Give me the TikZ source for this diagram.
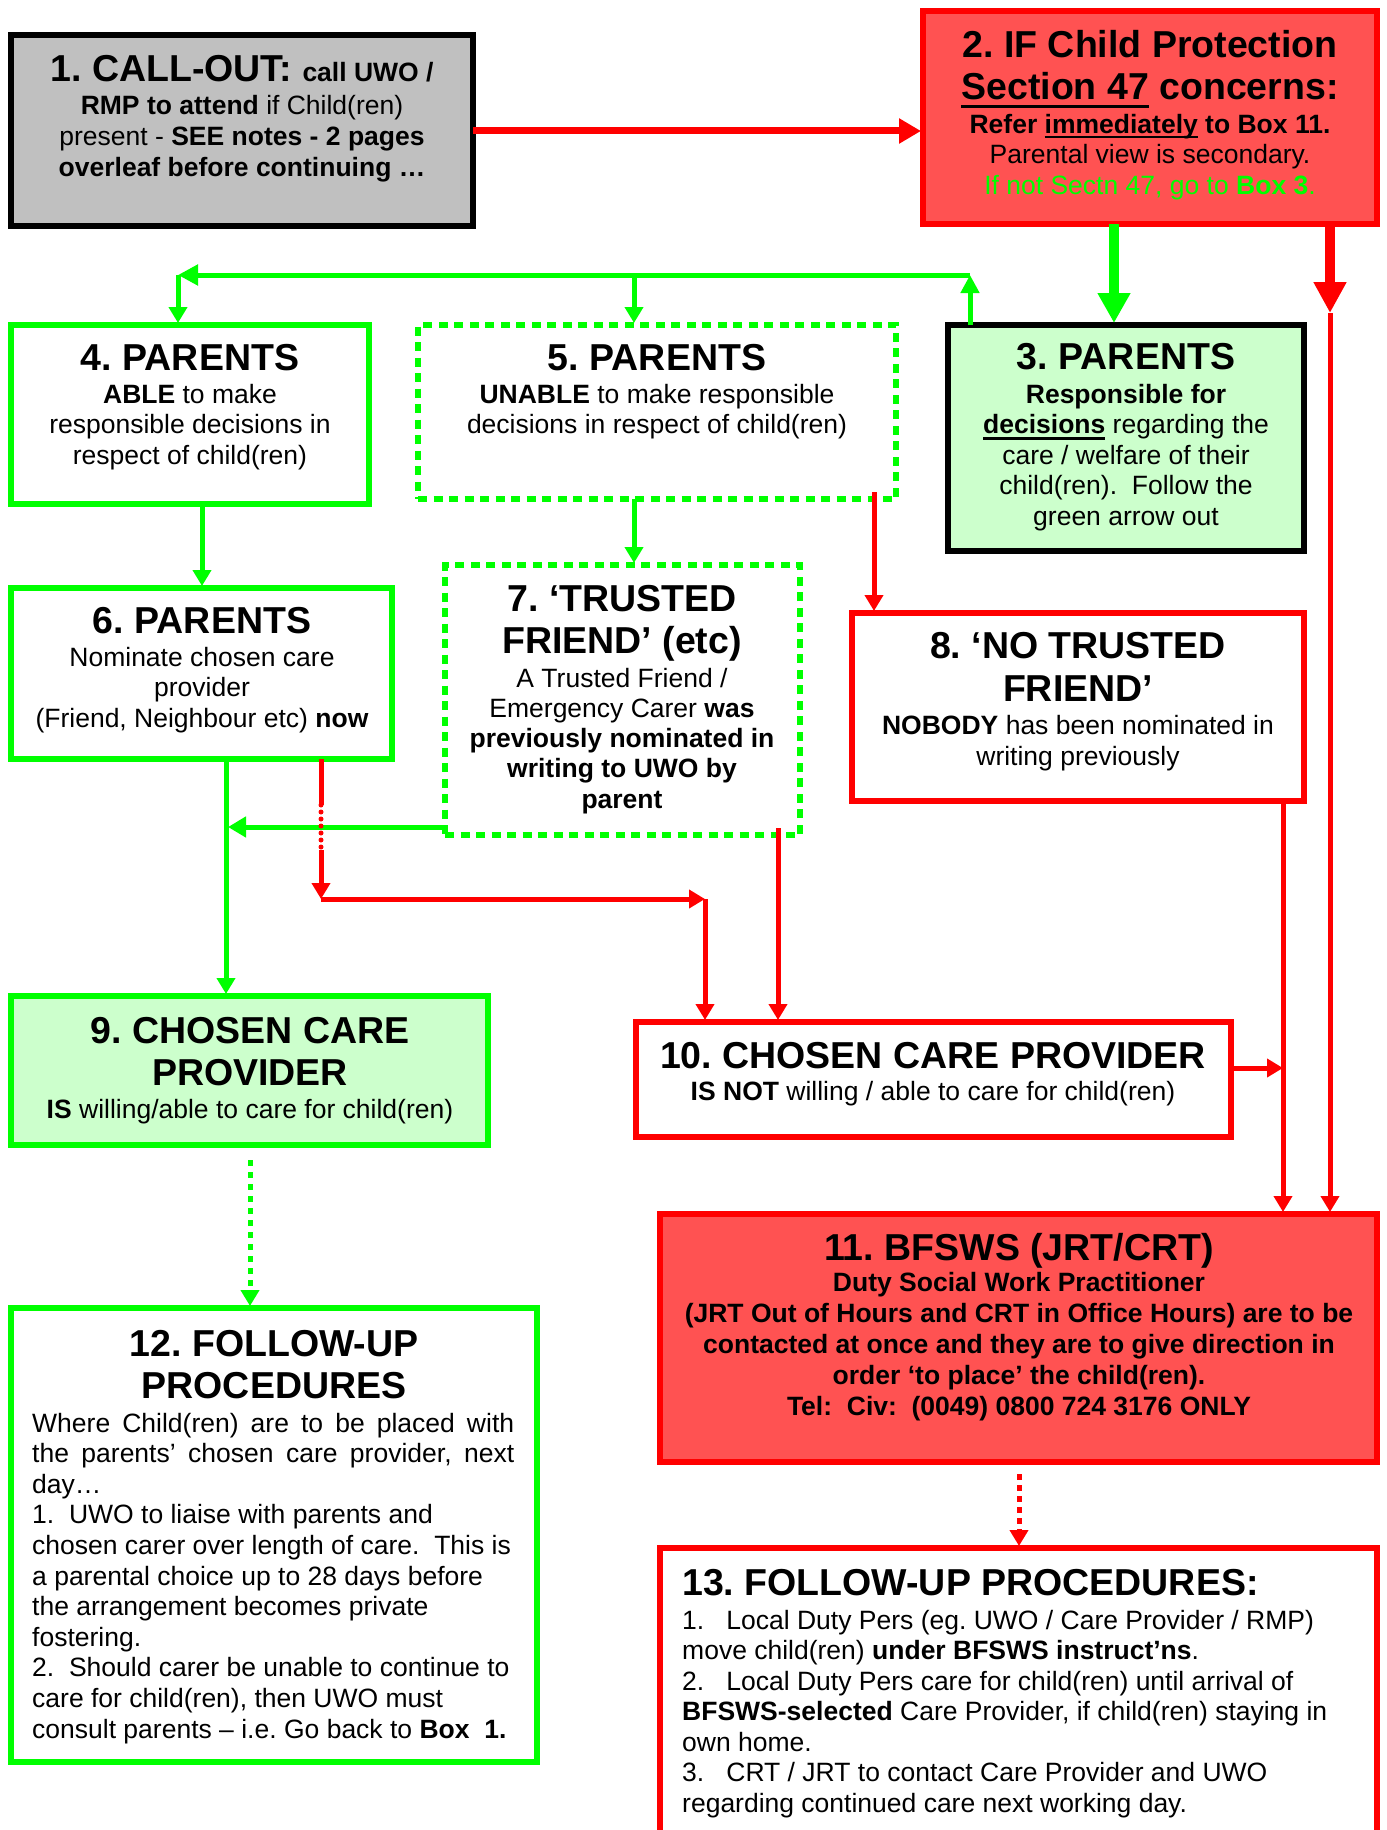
\documentclass[tikz,border=0pt]{standalone}
\usepackage{fontspec}
\setmainfont{Liberation Sans}
\usetikzlibrary{arrows.meta}
\definecolor{gr}{RGB}{0,255,0}
\definecolor{rd}{RGB}{255,0,0}
\definecolor{rfill}{RGB}{255,82,82}
\definecolor{lgreen}{RGB}{204,255,204}
\definecolor{gry}{RGB}{192,192,192}
\newcommand\myul[3]{\setbox0=\hbox{#3}\rlap{\rule[-#1]{\wd0}{#2}}\box0\relax}
\begin{document}
\frenchspacing
\begin{tikzpicture}[x=1pt,y=-1pt,
  box/.style={line width=6pt, inner sep=0pt, outer sep=0pt},
  dotbox/.style={line width=6pt, inner sep=0pt, outer sep=0pt, draw=gr, dash pattern=on 9pt off 6.5pt},
  ttl/.style={font=\fontsize{37.5}{42}\selectfont\bfseries, align=center, inner sep=0pt, anchor=base},
  bdy/.style={font=\fontsize{26.5}{30.6}\selectfont, align=center, inner sep=0pt, anchor=base},
  bdyl/.style={font=\fontsize{26.5}{30.6}\selectfont, align=left, inner sep=0pt, anchor=base west},
  gl/.style={draw=gr, line width=5pt},
  rl/.style={draw=rd, line width=5pt},
  arr/.style={-{Triangle[length=16pt,width=18pt]}},
  ]
\useasboundingbox (0,0) rectangle (1386,1830);
\clip (0,0) rectangle (1386,1830);

% ---------- boxes ----------
\node[box, draw=black, fill=gry, minimum width=462pt, minimum height=191pt] (b1) at (242,130.5) {};
\node[box, draw=rd, fill=rfill, minimum width=454pt, minimum height=213pt] (b2) at (1150,117.5) {};
\node[box, draw=black, fill=lgreen, minimum width=356pt, minimum height=226pt] (b3) at (1126,438) {};
\node[box, draw=gr, fill=white, minimum width=358pt, minimum height=179pt] (b4) at (190,414.5) {};
\node[dotbox, fill=white, minimum width=478pt, minimum height=174pt] (b5) at (657,412) {};
\node[box, draw=gr, fill=white, minimum width=381pt, minimum height=171pt] (b6) at (201.5,673.5) {};
\node[dotbox, fill=white, minimum width=355pt, minimum height=270pt] (b7) at (622.5,700) {};
\node[box, draw=rd, fill=white, minimum width=452pt, minimum height=188pt] (b8) at (1078,707) {};
\node[box, draw=gr, fill=lgreen, minimum width=477pt, minimum height=149pt] (b9) at (249.5,1070.5) {};
\node[box, draw=rd, fill=white, minimum width=595pt, minimum height=115pt] (b10) at (933.5,1079.5) {};
\node[box, draw=rd, fill=rfill, minimum width=717pt, minimum height=248pt] (b11) at (1018.5,1338) {};
\node[box, draw=gr, fill=white, minimum width=526pt, minimum height=454pt] (b12) at (274,1535) {};
\node[box, draw=rd, fill=white, minimum width=717pt, minimum height=312pt] (b13) at (1018.5,1704) {};

% ---------- connectors ----------
% 1 -> 2
\draw[rl, line width=7pt, -{Triangle[length=22pt,width=24pt]}, shorten >=2pt] (b1.east |- 0,131) -- (b2.west |- 0,131);
% 2 -> 3
\draw[gl, line width=10pt, -{Triangle[length=30pt,width=31pt]}, shorten >=2pt] (b2.south -| 1114,0) -- (b3.north -| 1114,0);
% 2 -> 11
\coordinate (r1) at (1330,313);
\draw[rl, line width=10pt, -{Triangle[length=31pt,width=31pt]}] (b2.south -| r1) -- (r1);
\draw[rl, arr, shorten >=2pt] (r1) -- (b11.north -| r1);
% 3 -> 4 / 5
\coordinate (gR) at (970,275);
\coordinate (gM) at (634,275);
\coordinate (gL) at (178,275);
\draw[gl, -{Triangle[length=18pt,width=18pt]}] (b3.north -| gR) -- (gR);
\draw[gl, -{Triangle[length=20pt,width=20pt]}] (gR) -- (gL);
\draw[gl, arr, shorten >=2pt] (gL) -- (b4.north -| gL);
\draw[gl, arr, shorten >=2pt] (gM) -- (b5.north -| gM);
% 4 -> 6
\draw[gl, arr, shorten >=2pt] (b4.south -| 202,0) -- (b6.north -| 202,0);
% 5 -> 7
\draw[gl, arr, shorten >=2pt] (b5.south -| 634,0) -- (b7.north -| 634,0);
% 5 -> 8
\draw[rl, arr, shorten >=2pt, shorten <=-7pt] (b5.south -| 874,0) -- (b8.north -| 874,0);
% 7 -> trunk to 9
\coordinate (g6) at (228,827);
\draw[gl, -{Triangle[length=18pt,width=20pt]}] (b7.west |- g6) -- (g6);
% 6 -> 9
\draw[gl, arr, shorten >=2pt] (b6.south -| 226,0) -- (b9.north -| 226,0);
% 6 -> 10
\coordinate (rA) at (321,805);
\coordinate (rB) at (321,850);
\coordinate (rC) at (321,899);
\coordinate (rD) at (705,899);
\draw[rl] (b6.south -| rA) -- (rA);
\draw[rl, line cap=round, dash pattern=on 0pt off 7pt] (rA) -- (rB);
\draw[rl, arr] (rB) -- (rC);
\draw[rl, arr] (rC) -- (rD);
\draw[rl, arr, shorten >=2pt] (rD) -- (b10.north -| rD);
% 7 -> 10
\draw[rl, arr, shorten >=2pt, shorten <=-7pt] (b7.south -| 778,0) -- (b10.north -| 778,0);
% 10 -> trunk
\coordinate (r10) at (1283,1068);
\draw[rl, arr] (b10.east |- r10) -- (r10);
% 8 -> 11
\draw[rl, arr, shorten >=2pt] (b8.south -| 1283,0) -- (b11.north -| 1283,0);
% 9 -> 12
\draw[gl, dash pattern=on 6pt off 6pt, arr, shorten <=15pt, shorten >=2pt] (b9.south -| 250,0) -- (b12.north -| 250,0);
% 11 -> 13
\draw[rl, dash pattern=on 6pt off 5pt, arr, shorten <=12pt, shorten >=2pt] (b11.south -| 1019,0) -- (b13.north -| 1019,0);

% ---------- texts (base = baseline of last line) ----------
\node[ttl] (t1) at (242,82) {1. CALL-OUT: {\fontsize{26.5}{30.6}\selectfont call UWO /}};
\node[bdy, font=\fontsize{26.5}{31}\selectfont] (d1) at (242,177) {\textbf{RMP to attend} if Child(ren)\\ present - \textbf{SEE notes - 2 pages}\\ \textbf{overleaf before continuing …}};

\node[ttl] (t2) at (1150,100) {2. IF Child Protection\\ \myul{8pt}{3pt}{Section 47} concerns:};
\node[bdy, font=\fontsize{26.5}{31}\selectfont] (d2) at (1150,195) {\textbf{Refer \myul{5pt}{2.5pt}{immediately} to Box 11.}\\ Parental view is secondary.\\ \textcolor{gr}{If not Sectn 47, go to \textbf{Box 3}.}};

\node[ttl] (t3) at (1126,369) {3. PARENTS};
\node[bdy] (d3) at (1126,525.4) {\textbf{Responsible for}\\ \textbf{\myul{6pt}{2.5pt}{decisions}} regarding the\\ care / welfare of their\\ child(ren).\ \ Follow the\\ green arrow out};

\node[ttl] (t4) at (190,370) {4. PARENTS};
\node[bdy] (d4) at (190,464.2) {\textbf{ABLE} to make\\ responsible decisions in\\ respect of child(ren)};

\node[ttl] (t5) at (657,370) {5. PARENTS};
\node[bdy] (d5) at (657,433.6) {\textbf{UNABLE} to make responsible\\ decisions in respect of child(ren)};

\node[ttl] (t6) at (202,633) {6. PARENTS};
\node[bdy] (d6) at (202,727.2) {Nominate chosen care\\ provider\\ (Friend, Neighbour etc) \textbf{now}};

\node[ttl] (t7) at (622,653) {7. ‘TRUSTED\\ FRIEND’ (etc)};
\node[bdy, font=\fontsize{26.5}{30.3}\selectfont] (d7) at (622,808.2) {A Trusted Friend /\\ Emergency Carer \textbf{was}\\ \textbf{previously nominated in}\\ \textbf{writing to UWO by}\\ \textbf{parent}};

\node[ttl, font=\fontsize{37.5}{43}\selectfont\bfseries] (t8) at (1078,701) {8. ‘NO TRUSTED\\ FRIEND’};
\node[bdy, font=\fontsize{26.5}{31}\selectfont] (d8) at (1078,765) {\textbf{NOBODY} has been nominated in\\ writing previously};

\node[ttl] (t9) at (250,1085) {9. CHOSEN CARE\\ PROVIDER};
\node[bdy] (d9) at (250,1118) {\textbf{IS} willing/able to care for child(ren)};

\node[ttl] (t10) at (933,1068) {10. CHOSEN CARE PROVIDER};
\node[bdy] (d10) at (933,1100) {\textbf{IS NOT} willing / able to care for child(ren)};

\node[ttl] (t11) at (1019,1260) {11. BFSWS (JRT/CRT)};
\node[bdy, font=\fontsize{26.5}{31}\selectfont\bfseries] (d11) at (1019,1415) {Duty Social Work Practitioner\\ (JRT Out of Hours and CRT in Office Hours) are to be\\ contacted at once and they are to give direction in\\ order ‘to place’ the child(ren).\\ Tel:\ \ Civ:\ \ (0049) 0800 724 3176 ONLY};

\node[ttl] (t12) at (274,1398) {12. FOLLOW-UP\\ PROCEDURES};
\node[bdyl] (d12) at (32,1738) {\makebox[482pt][s]{Where Child(ren) are to be placed with}\\ \makebox[482pt][s]{the parents’ chosen care provider, next}\\ day…\\ 1.\ \ UWO to liaise with parents and\\ chosen carer over length of care.\ \ This is\\ a parental choice up to 28 days before\\ the arrangement becomes private\\ fostering.\\ 2.\ \ Should carer be unable to continue to\\ care for child(ren), then UWO must\\ consult parents – i.e. Go back to \textbf{Box\ \ 1.}};

\node[ttl, anchor=base west] (t13) at (682,1595) {13. FOLLOW-UP PROCEDURES:};
\node[bdyl, font=\fontsize{26.5}{30.5}\selectfont] (d13) at (682,1812) {1.\ \ \ Local Duty Pers (eg. UWO / Care Provider / RMP)\\ move child(ren) \textbf{under BFSWS instruct’ns}.\\ 2.\ \ \ Local Duty Pers care for child(ren) until arrival of\\ \textbf{BFSWS-selected} Care Provider, if child(ren) staying in\\ own home.\\ 3.\ \ \ CRT / JRT to contact Care Provider and UWO\\ regarding continued care next working day.};
\end{tikzpicture}
\end{document}
